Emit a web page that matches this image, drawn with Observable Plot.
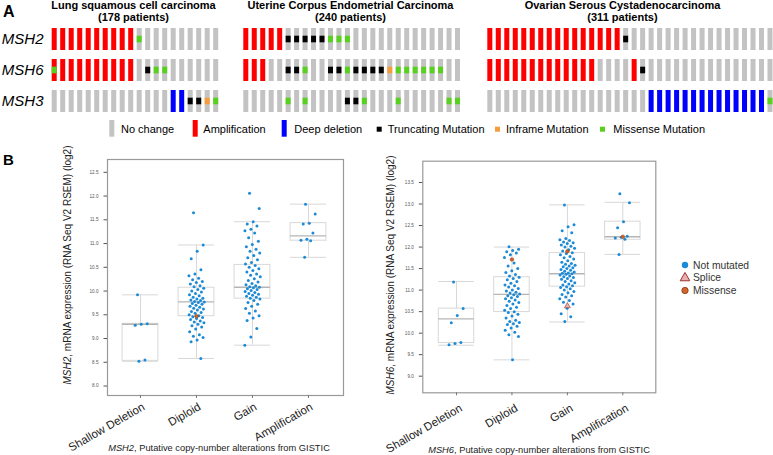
<!DOCTYPE html>
<html>
<head>
<meta charset="utf-8">
<script src="https://cdn.jsdelivr.net/npm/d3@7"></script>
<script src="https://cdn.jsdelivr.net/npm/@observablehq/plot@0.6"></script>
<style>
html, body { margin: 0; padding: 0; background: #fff; }
#root { position: relative; width: 773px; height: 455px; overflow: hidden; background: #fff; font-family: "Liberation Sans", Arial, sans-serif; }
#root > * { position: absolute; }
</style>
</head>
<body>
<div id="root"></div>
<script>
// ================= Panel A data =================
const genes = ["MSH2", "MSH6", "MSH3"];
const cancerNames = ["Lung squamous cell carcinoma", "Uterine Corpus Endometrial Carcinoma", "Ovarian Serous Cystadenocarcinoma"];
const patientCounts = [178, 240, 311];
const altCodes = ["-", "A", "D", "T", "I", "M"];
const altLabels = ["No change", "Amplification", "Deep deletion", "Truncating Mutation", "Inframe Mutation", "Missense Mutation"];
const altColors = ["#c3c3c3", "#ff0000", "#0000ff", "#000000", "#f59d3d", "#57d11e"];

// copy-number runs per gene row: [code, number of patients]
const lungCNA = [[["A", 10], ["-", 10]], [["A", 10], ["-", 10]], [["-", 14], ["D", 2], ["-", 4]]];
const uterineCNA = [[["A", 5], ["-", 21]], [["A", 3], ["-", 23]], [["-", 26]]];
const ovarianCNA = [[["A", 16], ["-", 18]], [["A", 13], ["-", 4], ["A", 1], ["-", 16]], [["-", 19], ["D", 14], ["-", 1]]];
// mutations per gene row: [patient index, code]
const lungMut = [
  [[10, "M"]],
  [[0, "M"], [11, "T"], [12, "M"], [13, "M"]],
  [[16, "T"], [17, "T"], [18, "I"], [19, "M"]]
];
const uterineMut = [
  [[5, "T"], [6, "T"], [7, "T"], [8, "T"], [9, "T"], [10, "M"], [11, "M"], [12, "M"]],
  [[5, "T"], [6, "T"], [7, "M"], [10, "T"], [11, "T"], [12, "M"], [13, "T"], [14, "T"], [15, "T"], [16, "T"], [17, "I"], [18, "M"], [19, "M"], [20, "M"], [21, "M"], [22, "M"], [23, "M"]],
  [[5, "M"], [7, "M"], [12, "T"], [13, "T"], [14, "M"], [18, "M"], [24, "M"], [25, "M"]]
];
const ovarianMut = [[[16, "T"]], [[18, "T"]], [[33, "M"]]];

// ================= Panel B data =================
const cnaCategories = ["Shallow Deletion", "Diploid", "Gain", "Amplification"];
const msh2Ticks = [8.0, 8.5, 9.0, 9.5, 10.0, 10.5, 11.0, 11.5, 12.0, 12.5];
const msh6Ticks = [9.0, 9.5, 10.0, 10.5, 11.0, 11.5, 12.0, 12.5, 13.0, 13.5];
// box stats per category: [low whisker, q1, median, q3, high whisker]
const msh2Box = [[8.52, 8.53, 9.30, 9.31, 9.92], [8.58, 9.47, 9.77, 10.07, 10.97], [8.86, 9.84, 10.08, 10.55, 11.46], [10.71, 11.06, 11.16, 11.43, 11.83]];
const msh6Box = [[9.72, 9.77, 10.33, 10.57, 11.20], [9.38, 10.49, 10.90, 11.30, 12.00], [10.26, 11.08, 11.38, 11.86, 12.98], [11.83, 12.17, 12.24, 12.59, 13.04]];

const msh2Shallow = [9.92, 9.31, 9.30, 9.28, 8.55, 8.52];
const msh2Diploid = [11.65, 10.97, 10.84, 10.68, 10.45, 10.36, 10.32, 10.27, 10.24, 10.2, 10.18, 10.15, 10.11, 10.09, 10.06, 10.03, 10.0, 9.98, 9.95, 9.92, 9.9, 9.87, 9.85, 9.83, 9.81, 9.8, 9.78, 9.77, 9.76, 9.74, 9.72, 9.7, 9.68, 9.66, 9.64, 9.62, 9.6, 9.57, 9.55, 9.53, 9.5, 9.48, 9.46, 9.44, 9.42, 9.4, 9.37, 9.35, 9.33, 9.3, 9.27, 9.24, 9.2, 9.14, 9.08, 9.05, 9.02, 8.97, 8.93, 8.58];
const msh2Gain = [12.06, 11.74, 11.46, 11.41, 11.37, 11.3, 11.27, 11.22, 11.12, 11.05, 10.98, 10.93, 10.88, 10.84, 10.8, 10.75, 10.7, 10.66, 10.6, 10.57, 10.54, 10.5, 10.47, 10.43, 10.4, 10.36, 10.33, 10.3, 10.26, 10.22, 10.19, 10.16, 10.13, 10.11, 10.09, 10.08, 10.07, 10.05, 10.03, 10.01, 9.99, 9.97, 9.95, 9.93, 9.91, 9.89, 9.87, 9.85, 9.83, 9.8, 9.76, 9.72, 9.68, 9.63, 9.58, 9.53, 9.48, 9.43, 9.38, 9.21, 9.03, 8.86];
const msh2Amp = [11.83, 11.62, 11.43, 11.41, 11.22, 11.09, 11.07, 11.06, 10.71];
const msh2Missense = [[1, 9.47]];
const msh2Splice = [];

const msh6Shallow = [11.19, 10.57, 10.41, 10.24, 9.78, 9.76, 9.73];
const msh6Diploid = [12.01, 11.95, 11.92, 11.89, 11.86, 11.82, 11.76, 11.63, 11.56, 11.5, 11.45, 11.41, 11.36, 11.33, 11.3, 11.27, 11.24, 11.2, 11.16, 11.12, 11.1, 11.07, 11.04, 11.0, 10.98, 10.95, 10.93, 10.91, 10.89, 10.87, 10.85, 10.82, 10.8, 10.77, 10.74, 10.71, 10.68, 10.64, 10.6, 10.57, 10.53, 10.5, 10.48, 10.44, 10.4, 10.35, 10.3, 10.27, 10.25, 10.22, 10.2, 10.16, 10.12, 10.07, 10.02, 9.96, 9.92, 9.38];
const msh6Gain = [12.98, 12.52, 12.47, 12.38, 12.33, 12.2, 12.17, 12.15, 12.12, 12.1, 12.08, 12.05, 12.02, 12.0, 11.97, 11.94, 11.91, 11.87, 11.85, 11.82, 11.78, 11.75, 11.72, 11.68, 11.65, 11.62, 11.6, 11.58, 11.56, 11.54, 11.52, 11.5, 11.48, 11.46, 11.44, 11.42, 11.4, 11.39, 11.38, 11.37, 11.35, 11.33, 11.31, 11.29, 11.27, 11.25, 11.22, 11.2, 11.17, 11.14, 11.12, 11.1, 11.08, 11.06, 11.03, 11.0, 10.97, 10.94, 10.9, 10.87, 10.84, 10.8, 10.76, 10.72, 10.68, 10.58, 10.45, 10.38, 10.27];
const msh6Amp = [13.24, 13.03, 12.59, 12.45, 12.25, 12.23, 12.21, 12.18, 11.83];
const msh6Missense = [[1, 11.71], [2, 11.9], [3, 12.24]];
const msh6Splice = [[2, 10.63]];

const mutLegend = ["Not mutated", "Splice", "Missense"];

// ================= Rendering =================
const FONT = '"Liberation Sans", Arial, sans-serif';
const root = document.getElementById("root");
function put(node, left, top) { node.style.left = left + "px"; node.style.top = top + "px"; root.appendChild(node); return node; }

function oncoprint(cna, mut, n, width, r0, r1, marginLeft, showGenes) {
  const cells = genes.flatMap((g, gi) => {
    let k = 0;
    return cna[gi].flatMap(([code, len]) => d3.range(len).map(() => ({gene: g, idx: k++, code})));
  });
  const muts = genes.flatMap((g, gi) => mut[gi].map(([idx, code]) => ({gene: g, idx, code})));
  return Plot.plot({
    width, height: 118,
    marginLeft, marginRight: 0, marginTop: 0, marginBottom: 0,
    style: {background: "transparent", fontFamily: FONT, overflow: "visible"},
    x: {type: "band", domain: d3.range(n), range: [r0, r1], paddingInner: 0.41, paddingOuter: 0, round: false, axis: null},
    y: {type: "band", domain: genes, range: [28, 112], paddingInner: 0.29, paddingOuter: 0, round: false, axis: null},
    color: {domain: altCodes, range: altColors},
    marks: [
      Plot.cell(cells, {x: "idx", y: "gene", fill: "code"}),
      Plot.cell(muts, {x: "idx", y: "gene", fill: "code", insetTop: 7.7, insetBottom: 7.7}),
      showGenes ? Plot.text(genes, {y: d => d, frameAnchor: "left", textAnchor: "end", dx: -8, fontSize: 15, fontStyle: "italic", fill: "#000"}) : null
    ]
  });
}

put(oncoprint(lungCNA, lungMut, 20, 230, 51.7, 218.2, 51, true), 0, 0);
put(oncoprint(uterineCNA, uterineMut, 26, 245, 13.3, 230, 0, false), 230, 0);
put(oncoprint(ovarianCNA, ovarianMut, 34, 298, 12.3, 297.5, 0, false), 475, 0);

const jitter = i => ((i * 0.6180339887 + 0.31) % 1 - 0.5) * 0.28;

function exprPlot({box, groups, missense, splice, ticks, ydomain, xdomain, width, height, margins, tdx, tdy}) {
  const pts = groups.flatMap((vals, ci) => vals.map((v, i) => ({ci, v, i})));
  const boxes = box.map(([lo, q1, med, q3, hi], ci) => ({ci, lo, q1, med, q3, hi}));
  const bw = 0.32;
  const boxStroke = "#d8d8d8";
  return Plot.plot({
    width, height, ...margins,
    style: {background: "transparent", fontFamily: FONT, overflow: "visible"},
    x: {type: "linear", domain: xdomain, axis: null},
    y: {type: "linear", domain: ydomain, axis: null},
    marks: [
      Plot.ruleX(boxes, {x: "ci", y1: "lo", y2: "q1", stroke: boxStroke}),
      Plot.ruleX(boxes, {x: "ci", y1: "q3", y2: "hi", stroke: boxStroke}),
      Plot.ruleY(boxes, {y: "lo", x1: d => d.ci - bw, x2: d => d.ci + bw, stroke: boxStroke}),
      Plot.ruleY(boxes, {y: "hi", x1: d => d.ci - bw, x2: d => d.ci + bw, stroke: boxStroke}),
      Plot.rect(boxes, {x1: d => d.ci - bw, x2: d => d.ci + bw, y1: "q1", y2: "q3", fill: "none", stroke: boxStroke}),
      Plot.ruleY(boxes, {y: "med", x1: d => d.ci - bw, x2: d => d.ci + bw, stroke: "#b5b5b5", strokeWidth: 1.3}),
      Plot.dot(pts, {x: d => d.ci + jitter(d.i), y: "v", r: 1.5, fill: "#1c8ad6"}),
      Plot.dot(missense, {x: d => d[0], y: d => d[1], r: 1.8, fill: "#d0652a", stroke: "#8a3a1a", strokeWidth: 0.5}),
      Plot.dot(splice, {x: d => d[0], y: d => d[1], symbol: "triangle", r: 2.2, fill: "#e8b0b0", stroke: "#a03030", strokeWidth: 0.6}),
      Plot.frame({stroke: "#999", strokeWidth: 1.2}),
      Plot.axisY({ticks, tickFormat: d3.format(".1f"), tickSize: 3.5, tickPadding: 5.5, fontSize: 4.6, label: null, color: "#555"}),
      Plot.axisX({ticks: [0, 1, 2, 3], tickFormat: () => "", tickSize: 3, label: null, color: "#777"}),
      Plot.text([0, 1, 2, 3], {x: d => d, frameAnchor: "bottom", text: d => cnaCategories[d], rotate: -30, textAnchor: "end", dx: tdx, dy: tdy, fontSize: 11.5, fill: "#222"})
    ]
  });
}

put(exprPlot({
  box: msh2Box, groups: [msh2Shallow, msh2Diploid, msh2Gain, msh2Amp], missense: msh2Missense, splice: msh2Splice,
  ticks: msh2Ticks, ydomain: [7.8, 12.77], xdomain: [-0.589, 3.625],
  width: 360, height: 305, margins: {marginLeft: 107, marginRight: 17, marginTop: 9, marginBottom: 60},
  tdx: 5, tdy: 13.5
}), 0, 150);

put(exprPlot({
  box: msh6Box, groups: [msh6Shallow, msh6Diploid, msh6Gain, msh6Amp], missense: msh6Missense, splice: msh6Splice,
  ticks: msh6Ticks, ydomain: [8.614, 13.995], xdomain: [-0.608, 3.595],
  width: 290, height: 305, margins: {marginLeft: 42.3, marginRight: 14.7, marginTop: 10.7, marginBottom: 62.7},
  tdx: 6.5, tdy: 17.5
}), 380, 150);

// ================= Text overlay: titles, legends, axis titles =================
const ov = d3.create("svg").attr("width", 773).attr("height", 455)
  .style("pointer-events", "none").style("font-family", FONT).style("overflow", "visible");
function txt(x, y, parts, {size = 11, weight = "normal", anchor = "start", rotate = 0, fill = "#000"} = {}) {
  const t = ov.append("text").attr("transform", `translate(${x},${y}) rotate(${rotate})`)
    .attr("font-size", size).attr("font-weight", weight).attr("text-anchor", anchor).attr("fill", fill);
  for (const p of [].concat(parts)) {
    if (typeof p === "string") t.append("tspan").text(p);
    else t.append("tspan").attr("font-style", "italic").text(p.i);
  }
  return t;
}

// panel letters
txt(3, 16.7, "A", {size: 16, weight: "bold"});
txt(3, 165, "B", {size: 15, weight: "bold"});

// cancer titles
const titleCenters = [133.5, 350.5, 622.5];
cancerNames.forEach((name, i) => {
  txt(titleCenters[i], 8.8, name, {size: 11, weight: "bold", anchor: "middle"});
  txt(titleCenters[i], 21, `(${patientCounts[i]} patients)`, {size: 11, weight: "bold", anchor: "middle"});
});

// panel A legend
const swatchX = [109.3, 192.7, 281.7, 376.7, 495, 600];
const legendTextX = [121, 203.3, 294.3, 387.7, 506, 613.3];
altCodes.forEach((code, i) => {
  const tall = i < 3;
  ov.append("rect").attr("x", swatchX[i]).attr("y", tall ? 120 : 126.7)
    .attr("width", 5).attr("height", tall ? 16.7 : 5).attr("fill", altColors[i]);
  txt(legendTextX[i], 133.3, altLabels[i], {size: 11});
});

// panel B axis titles
txt(70.5, 265, [{i: "MSH2"}, ", mRNA expression (RNA Seq V2 RSEM) (log2)"], {size: 10, anchor: "middle", rotate: -90, fill: "#222"});
txt(394, 275, [{i: "MSH6"}, ", mRNA expression (RNA Seq V2 RSEM) (log2)"], {size: 10, anchor: "middle", rotate: -90, fill: "#222"});
txt(219, 451, [{i: "MSH2"}, ", Putative copy-number alterations from GISTIC"], {size: 9.3, anchor: "middle", fill: "#222"});
txt(539, 452.5, [{i: "MSH6"}, ", Putative copy-number alterations from GISTIC"], {size: 9.3, anchor: "middle", fill: "#222"});

// panel B mutation legend
const legY = [265, 277.5, 290.5];
ov.append("circle").attr("cx", 685).attr("cy", legY[0]).attr("r", 3.2).attr("fill", "#1c8ad6");
ov.append("path").attr("d", d3.symbol(d3.symbolTriangle, 40)()).attr("transform", `translate(685,${legY[1] + 0.5})`)
  .attr("fill", "#e8b0b0").attr("stroke", "#a03030").attr("stroke-width", 1);
ov.append("circle").attr("cx", 685).attr("cy", legY[2]).attr("r", 3.2).attr("fill", "#d0652a").attr("stroke", "#8a3a1a").attr("stroke-width", 0.8);
mutLegend.forEach((lab, i) => txt(693, legY[i] + 3.6, lab, {size: 10.3, fill: "#333"}));

put(ov.node(), 0, 0);
</script>
</body>
</html>
